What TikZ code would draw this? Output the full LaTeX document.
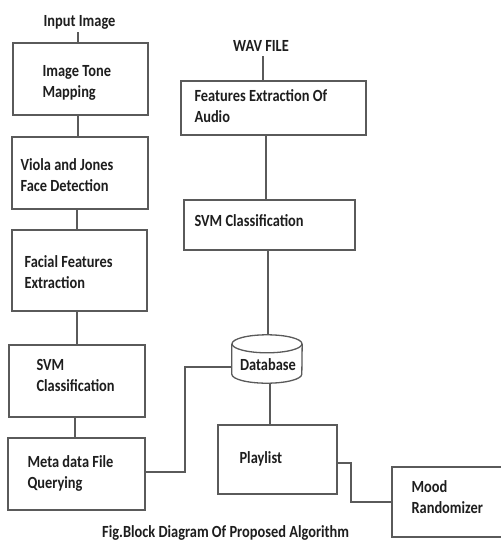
\documentclass[tikz,border=0pt]{standalone}
\usepackage{fontspec}
\setmainfont{Carlito}
\usetikzlibrary{calc}
\definecolor{linec}{HTML}{5A5A5A}
\definecolor{textc}{HTML}{1E1E1E}
\newcommand{\stx}[1]{\scalebox{1}[1.18]{\begin{tabular}{@{}l@{}}#1\end{tabular}}}
\begin{document}
\begin{tikzpicture}[x=1pt,y=-1pt,
  box/.style={draw=linec,line width=1.3pt,rectangle,inner sep=0pt},
  txt/.style={text=textc,font=\fontsize{14.4}{17.8}\selectfont\bfseries,inner sep=0pt},
  conn/.style={draw=linec,line width=1.3pt}]
\useasboundingbox[fill=white] (0,0) rectangle (501,542);
% left column
\node[txt,anchor=base] (inp) at (79.5,26) {\scalebox{1}[1.18]{Input Image}};
\node[box,minimum width=135,minimum height=72] (b1) at (80.5,79) {};
\node[txt,anchor=west] (t1) at ([xshift=30,yshift=-3.5]b1.west) {\stx{Image Tone\\Mapping}};
\node[box,minimum width=136,minimum height=72] (b2) at (80,173) {};
\node[txt,anchor=west] (t2) at ([xshift=9,yshift=-3.5]b2.west) {\stx{Viola and Jones\\Face Detection}};
\node[box,minimum width=135,minimum height=81] (b3) at (79.5,270.5) {};
\node[txt,anchor=west] (t3) at ([xshift=13,yshift=-3.5]b3.west) {\stx{Facial Features\\Extraction}};
\node[box,minimum width=136,minimum height=72] (b4) at (77,381) {};
\node[txt,anchor=west] (t4) at ([xshift=28,yshift=4]b4.west) {\stx{SVM\\Classification}};
\node[box,minimum width=137,minimum height=72] (b5) at (76.5,474) {};
\node[txt,anchor=west] (t5) at ([xshift=20]b5.west) {\stx{Meta data File\\Querying}};
% right column
\node[txt,anchor=base] (wav) at (261,51) {\scalebox{1}[1.18]{WAV FILE}};
\node[box,minimum width=185,minimum height=54] (f1) at (273.5,108) {};
\node[txt,anchor=west] (tf1) at ([xshift=14]f1.west) {\stx{Features Extraction Of\\Audio}};
\node[box,minimum width=171,minimum height=50] (s2) at (269.5,225) {};
\node[txt,anchor=west] (ts2) at ([xshift=11,yshift=3]s2.west) {\stx{SVM Classification}};
% database cylinder
\node[inner sep=0pt,minimum width=70,minimum height=48] (db) at (267,359) {};
\draw[conn,fill=white] ($(db.north)+(0,9)$) ellipse [x radius=35,y radius=9];
\draw[conn] ($(db.north west)+(0,9)$) -- ($(db.south west)+(0,-9)$)
   arc[start angle=180,end angle=0,x radius=35,y radius=9]
   -- ($(db.north east)+(0,9)$);
\node[txt] (tdb) at (268,366) {\stx{Database}};
\node[box,minimum width=119,minimum height=69] (pl) at (277.5,459.5) {};
\node[txt,anchor=west] (tpl) at ([xshift=22]pl.west) {\stx{Playlist}};
\node[box,minimum width=130,minimum height=70] (md) at (457,502) {};
\node[txt,anchor=west] (tmd) at ([xshift=20,yshift=3.5]md.west) {\stx{Mood\\Randomizer}};
\node[txt,anchor=base west] (cap) at (102,537.5) {\scalebox{1}[1.18]{Fig.Block Diagram Of Proposed Algorithm}};
% connectors
\coordinate (c0) at (78,32);
\draw[conn] (c0) -- (c0 |- b1.north);
\draw[conn] ([xshift=-2.5]b1.south) -- ([xshift=-2]b2.north);
\draw[conn] ([xshift=-3]b2.south) -- ([xshift=-2.5]b3.north);
\draw[conn] ([xshift=-2.5]b3.south) -- ([xshift=0]b4.north);
\draw[conn] ([xshift=-2]b4.south) -- ([xshift=-1.5]b5.north);
\coordinate (c1) at (263,56);
\draw[conn] (c1) -- (c1 |- f1.north);
\draw[conn] ([xshift=-7.5]f1.south) -- ([xshift=-3.5]s2.north);
\draw[conn] ([xshift=-1.5]s2.south) -- ([xshift=1]db.north);
\draw[conn] ([xshift=3]db.south) -- ([xshift=-7.5]pl.north);
\coordinate (k1) at (185,367);
\draw[conn] (b5.east |- 0,472) -| (k1) -- (k1 -| db.west);
\coordinate (k2) at (351,463);
\draw[conn] (pl.east |- k2) -- (k2) |- (md.west);
\end{tikzpicture}
\end{document}
